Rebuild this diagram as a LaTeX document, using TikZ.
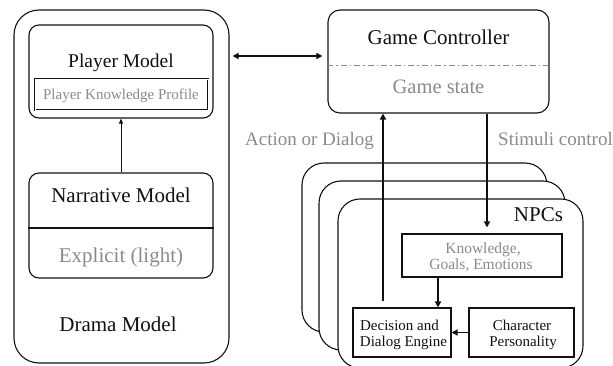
\documentclass[tikz,border=0pt]{standalone}
\usepackage{fontspec}
\setmainfont{Liberation Serif}
\usetikzlibrary{arrows.meta}
\definecolor{softgrey}{HTML}{8A8A8A}
\definecolor{ink}{HTML}{111111}
\tikzset{
  box/.style={draw=ink, line width=1.1pt, inner sep=0pt, fill=white},
  rbox/.style={box, rounded corners=#1},
  rbox/.default=10pt,
  txt/.style={anchor=base, inner sep=0pt, text=ink, font=\fontsize{#1}{#1}\selectfont},
  txt/.default=21,
  gtxt/.style={txt=#1, text=softgrey},
  gtxt/.default=21,
  bigarrow/.style={draw=ink, line width=1.8pt, -{Triangle[length=6pt,width=6pt]}},
  thinarrow/.style={draw=ink, line width=0.8pt, -{Triangle[length=5pt,width=4pt]}},
}
\begin{document}
\begin{tikzpicture}[x=1pt, y=-1pt]
\useasboundingbox (0,0) rectangle (613,366);

% ---------- drama model ----------
\node[rbox=25pt, minimum width=215pt, minimum height=353pt] (drama) at (121.5,186.5) {};
\node[rbox, minimum width=184pt, minimum height=93pt] (player) at (121,71.5) {};
\node[txt=19.5] (playerlbl) at (121,68) {Player Model};
\node[draw=ink, double, line width=0.9pt, double distance=0.7pt, inner sep=0pt,
      minimum width=173pt, minimum height=31pt] (pkp) at (121.5,94.5) {};
\node[gtxt=15] (pkplbl) at (121,100) {Player Knowledge Profile};

\node[rbox, minimum width=184pt, minimum height=105pt] (narr) at (121,225.5) {};
\draw[draw=ink, line width=1.1pt] ([yshift=-2.5pt]narr.west) -- ([yshift=-2.5pt]narr.east);
\node[txt=21] (narrlbl) at (121,203) {Narrative Model};
\node[gtxt=21] (explbl) at (121,262) {Explicit (light)};
\node[txt=21] (dramalbl) at (118,331) {Drama Model};

\draw[thinarrow] (narr.north) -- (player.south);

% ---------- game controller ----------
\node[rbox=12pt, minimum width=221pt, minimum height=103pt] (ctrl) at (438.5,61.5) {};
\draw[softgrey, line width=1pt, dash pattern=on 6pt off 3pt on 1.5pt off 3pt]
  ([yshift=-4.5pt]ctrl.west) -- ([yshift=-4.5pt]ctrl.east);
\node[txt=21] (ctrllbl) at (438.5,45) {Game Controller};
\node[gtxt=20.5] (statelbl) at (438.5,94) {Game state};

\draw[bigarrow, {Triangle[length=6pt,width=6pt]}-{Triangle[length=6pt,width=6pt]},
      shorten <=3pt, shorten >=5pt]
  ([yshift=5.5pt]drama.east |- ctrl.west) -- ([yshift=5.5pt]ctrl.west);

% ---------- NPC stack ----------
\node[rbox=22pt, minimum width=245pt, minimum height=169pt] (npcA) at (424.5,247.5) {};
\node[rbox=22pt, minimum width=246pt, minimum height=169pt] (npcB) at (442,265.5) {};
\node[rbox=22pt, minimum width=245pt, minimum height=169pt] (npcC) at (460.5,283.5) {};
\node[txt=21] (npclbl) at (538.5,222) {NPCs};

\node[box, minimum width=160pt, minimum height=43pt] (know) at (482,255.5) {};
\node[gtxt=15.5] (knowA) at (483,253) {Knowledge,};
\node[gtxt=15.5] (knowB) at (481,269.5) {Goals, Emotions};

\node[box, minimum width=98pt, minimum height=49pt] (dec) at (402,332.5) {};
\node[txt=15] (decA) at (399.5,330) {Decision and};
\node[txt=15] (decB) at (403.5,346.5) {Dialog Engine};

\node[box, minimum width=105pt, minimum height=49pt] (char) at (521.5,332.5) {};
\node[txt=15] (charA) at (522,330) {Character};
\node[txt=15] (charB) at (523,346.5) {Personality};

% ---------- connectors ----------
\coordinate (upx) at (383,0);
\coordinate (downx) at (487,0);
\coordinate (kdx) at (438,0);

\draw[bigarrow] ([yshift=6pt]dec.north -| upx) -- (ctrl.south -| upx);
\draw[bigarrow] (ctrl.south -| downx) -- ([yshift=6pt]know.north -| downx);
\draw[bigarrow, line width=1.6pt] (know.south -| kdx) -- (dec.north -| kdx);
\draw[bigarrow, line width=1.6pt] (char.west) -- (dec.east);

\node[gtxt=19] (actlbl) at (309.5,146) {Action or Dialog};
\node[gtxt=19] (stimlbl) at (555.5,146) {Stimuli control};
\end{tikzpicture}
\end{document}
